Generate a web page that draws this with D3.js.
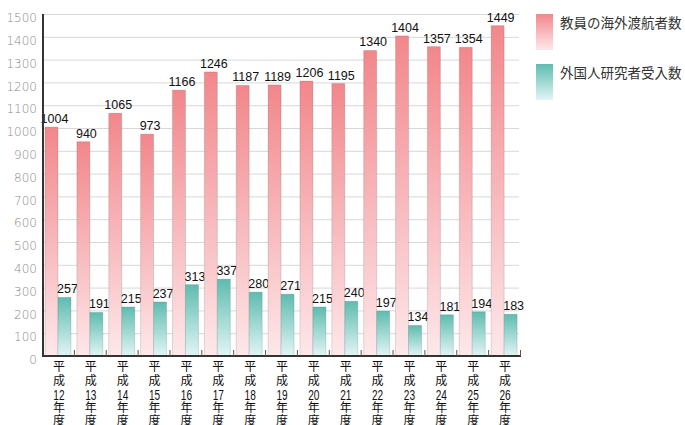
<!DOCTYPE html>
<html>
<head>
<meta charset="utf-8">
<script src="https://cdn.jsdelivr.net/npm/d3@7"></script>
<style>
  body { margin: 0; background: #fff; }
  svg { display: block; }
</style>
</head>
<body>
<script>
// 年度ラベル
var years = ["12", "13", "14", "15", "16", "17", "18", "19", "20", "21", "22", "23", "24", "25", "26"];
// 教員の海外渡航者数
var outbound = [1004, 940, 1065, 973, 1166, 1246, 1187, 1189, 1206, 1195, 1340, 1404, 1357, 1354, 1449];
// 外国人研究者受入数
var inbound = [257, 191, 215, 237, 313, 337, 280, 271, 215, 240, 197, 134, 181, 194, 183];
var seriesNames = ["教員の海外渡航者数", "外国人研究者受入数"];
var yTicks = [0, 100, 200, 300, 400, 500, 600, 700, 800, 900, 1000, 1100, 1200, 1300, 1400, 1500];

var svg = d3.select("body").append("svg").attr("width", 685).attr("height", 425),
    margin = {top: 14, right: 164, bottom: 69, left: 43},
    width = 685 - margin.left - margin.right,
    height = 425 - margin.top - margin.bottom;

var defs = svg.append("defs");
function grad(id, top, bottom) {
    var g = defs.append("linearGradient").attr("id", id)
        .attr("x1", 0).attr("y1", 0).attr("x2", 0).attr("y2", 1);
    g.append("stop").attr("offset", "0%").attr("stop-color", top);
    g.append("stop").attr("offset", "100%").attr("stop-color", bottom);
}
grad("gRed", "#f2878b", "#fde8ea");
grad("gTeal", "#5ebcb0", "#e2f5f5");
var fills = ["url(#gRed)", "url(#gTeal)"];

var x = d3.scaleBand().domain(years).range([0, width]);
var x1 = d3.scaleBand().domain([0, 1]).range([2, 28]);
var y = d3.scaleLinear().domain([0, 1500]).range([height, 0]);

var g = svg.append("g")
    .attr("transform", "translate(" + margin.left + "," + margin.top + ")");

// grid
g.append("g").selectAll("line")
    .data(yTicks.filter(function (d) { return d > 0; }))
    .enter().append("line")
    .attr("x1", 0).attr("x2", width - 2)
    .attr("y1", function (d) { return y(d) + 0.5; })
    .attr("y2", function (d) { return y(d) + 0.5; })
    .attr("stroke", "#d8d8d8");

// y axis labels
g.append("g").selectAll("text")
    .data(yTicks)
    .enter().append("text")
    .attr("x", -6)
    .attr("y", function (d) { return y(d) + 4; })
    .attr("dy", "0.35em")
    .attr("text-anchor", "end")
    .attr("fill", "#8a8a8a")
    .style("font-family", "'DejaVu Sans', sans-serif")
    .style("font-size", "12px")
    .style("font-weight", 300)
    .text(function (d) { return d; });

var rows = years.map(function (yr, i) { return {year: yr, vals: [outbound[i], inbound[i]]}; });

var groups = g.selectAll(".gr")
    .data(rows)
    .enter().append("g")
    .attr("class", "gr")
    .attr("transform", function (d) { return "translate(" + x(d.year) + ",0)"; });

groups.selectAll("rect")
    .data(function (d) { return d.vals.map(function (v, k) { return {k: k, v: v}; }); })
    .enter().append("rect")
    .attr("x", function (d) { return x1(d.k); })
    .attr("width", x1.bandwidth())
    .attr("y", function (d) { return y(d.v); })
    .attr("height", function (d) { return height - y(d.v); })
    .attr("fill", function (d) { return fills[d.k]; })
    .attr("stroke", "rgba(0,0,0,0.12)")
    .attr("stroke-width", 1);

groups.selectAll(".val")
    .data(function (d) { return d.vals.map(function (v, k) { return {k: k, v: v}; }); })
    .enter().append("text")
    .attr("class", "val")
    .attr("x", function (d) { return x1(d.k) + x1.bandwidth() / 2 + 3; })
    .attr("y", function (d) { return y(d.v) - 4; })
    .attr("text-anchor", "middle")
    .attr("fill", "#111")
    .style("font-family", "'Liberation Sans', Arial, sans-serif")
    .style("font-size", "12.5px")
    .text(function (d) { return d.v; });

// x axis
var ax = g.append("g").attr("transform", "translate(0," + height + ")");
ax.append("line").attr("x1", 0).attr("x2", width).attr("y1", 0).attr("y2", 0)
    .attr("stroke", "#333").attr("stroke-width", 2);
ax.selectAll(".tk")
    .data(years)
    .enter().append("line")
    .attr("class", "tk")
    .attr("x1", function (d) { return x(d) + x.bandwidth() - 0.5; })
    .attr("x2", function (d) { return x(d) + x.bandwidth() - 0.5; })
    .attr("y1", -6).attr("y2", 0)
    .attr("stroke", "#555");

// vertical year labels: 平/成/NN/年/度
var lab = ax.selectAll(".xl")
    .data(years)
    .enter().append("g")
    .attr("class", "xl")
    .attr("transform", function (d) { return "translate(" + (x(d) + x.bandwidth() / 2) + ",0)"; });
lab.each(function (d) {
    var t = d3.select(this);
    ["平", "成", d, "年", "度"].forEach(function (s, i) {
        var tx = t.append("text")
            .attr("text-anchor", "middle")
            .attr("fill", "#111")
            .text(s);
        if (i === 2) {
            tx.attr("transform", "translate(0," + (16.5 + i * 13.5) + ") scale(0.72,1)")
                .style("font-family", "'Liberation Sans', Arial, sans-serif")
                .style("font-size", "14px");
        } else {
            tx.attr("transform", "translate(0," + (15 + i * 13.5) + ")")
                .style("font-family", "'Noto Sans CJK JP', sans-serif")
                .style("font-size", "12px");
        }
    });
});

// y axis line
g.append("line").attr("x1", 0).attr("x2", 0).attr("y1", 0).attr("y2", height + 1)
    .attr("stroke", "#333").attr("stroke-width", 2);

// legend
var leg = svg.append("g").attr("transform", "translate(536,14)");
seriesNames.forEach(function (name, i) {
    var r = leg.append("g").attr("transform", "translate(0," + i * 50 + ")");
    r.append("rect").attr("width", 17).attr("height", 36).attr("fill", fills[i]);
    r.append("text").attr("x", 24).attr("y", 9).attr("dy", "0.35em")
        .attr("fill", "#333")
        .style("font-family", "'Noto Sans CJK JP', sans-serif")
        .style("font-size", "13.5px")
        .text(name);
});
</script>
</body>
</html>
